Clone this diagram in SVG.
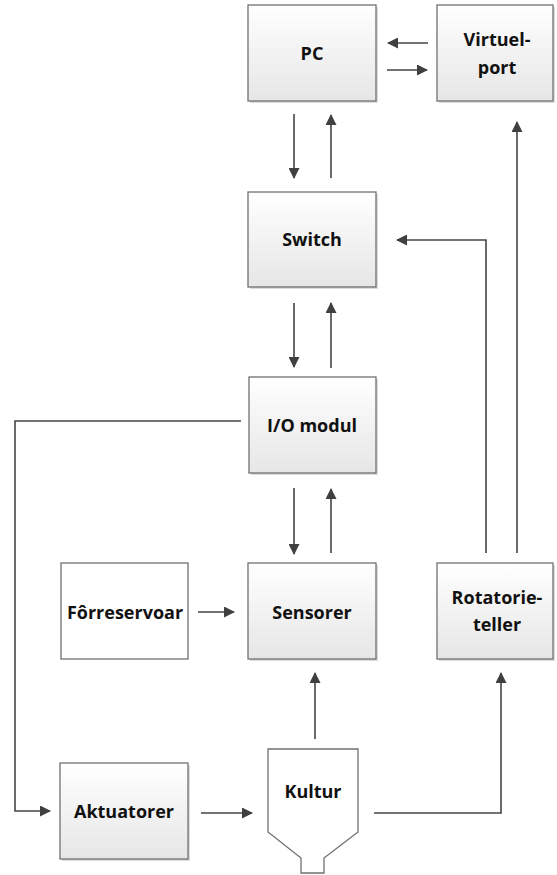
<svg xmlns="http://www.w3.org/2000/svg" width="557" height="875" viewBox="0 0 557 875">
<defs>
<linearGradient id="g" x1="0" y1="0" x2="0" y2="1">
<stop offset="0" stop-color="#ffffff"/>
<stop offset="1" stop-color="#e6e6e6"/>
</linearGradient>
<marker id="ah" markerWidth="11" markerHeight="11" refX="10" refY="5.5" orient="auto" markerUnits="userSpaceOnUse">
<path d="M0,0 L11,5.5 L0,11 Z" fill="#404040"/>
</marker>
</defs>
<style>
.box{fill:url(#g);stroke:#707070;stroke-width:1.3}
.wbox{fill:#ffffff;stroke:#707070;stroke-width:1.3}
.sh{fill:#dcdcdc}
.t{font-family:"Open Sans","Liberation Sans",sans-serif;font-weight:bold;font-size:18px;fill:#111;text-anchor:middle}
.c{fill:none;stroke:#454545;stroke-width:1.6}
.a{marker-end:url(#ah)}
</style>
<rect width="557" height="875" fill="#ffffff"/>
<g id="pc">
<rect class="sh" x="250" y="7" width="128" height="96"/>
<rect class="box" x="248" y="5" width="128" height="96"/>
<text class="t" x="312" y="60">PC</text>
</g>
<g id="virtuelport">
<rect class="sh" x="439" y="7" width="116" height="96"/>
<rect class="box" x="437" y="5" width="116" height="96"/>
<text class="t" x="497" y="46">Virtuel-</text>
<text class="t" x="497" y="74">port</text>
</g>
<g id="switch">
<rect class="sh" x="250" y="194" width="128" height="95"/>
<rect class="box" x="248" y="192" width="128" height="95"/>
<text class="t" x="312" y="246">Switch</text>
</g>
<g id="iomodul">
<rect class="sh" x="251" y="379" width="127" height="96"/>
<rect class="box" x="249" y="377" width="127" height="96"/>
<text class="t" x="312" y="432">I/O modul</text>
</g>
<g id="forreservoar">
<rect class="wbox" x="61" y="563" width="127" height="96"/>
<text class="t" x="125" y="619">Fôrreservoar</text>
</g>
<g id="sensorer">
<rect class="sh" x="250" y="565" width="128" height="96"/>
<rect class="box" x="248" y="563" width="128" height="96"/>
<text class="t" x="312" y="619">Sensorer</text>
</g>
<g id="rotatorieteller">
<rect class="sh" x="439" y="565" width="116" height="96"/>
<rect class="box" x="437" y="563" width="116" height="96"/>
<text class="t" x="497" y="604">Rotatorie-</text>
<text class="t" x="497" y="631">teller</text>
</g>
<g id="aktuatorer">
<rect class="sh" x="62" y="765" width="128" height="96"/>
<rect class="box" x="60" y="763" width="128" height="96"/>
<text class="t" x="124" y="818">Aktuatorer</text>
</g>
<g id="kultur">
<path class="wbox" d="M268,749 L358,749 L358,832 L324,858 L324,873 L301,873 L301,858 L268,832 Z"/>
<text class="t" x="313" y="798">Kultur</text>
</g>
<g id="connectors">
<path class="c a" d="M428,43 L388,43"/>
<path class="c a" d="M387,70 L427,70"/>
<path class="c a" d="M294,114 L294,178"/>
<path class="c a" d="M331,178 L331,115"/>
<path class="c a" d="M294,303 L294,367"/>
<path class="c a" d="M331,368 L331,303"/>
<path class="c a" d="M294,488 L294,554"/>
<path class="c a" d="M331,553 L331,489"/>
<path class="c a" d="M241,421 L15,421 L15,811 L50,811"/>
<path class="c a" d="M198,612 L234,612"/>
<path class="c a" d="M201,813 L252,813"/>
<path class="c a" d="M315,739 L315,673"/>
<path class="c a" d="M374,813 L501,813 L501,673"/>
<path class="c a" d="M486,553 L486,240 L397,240"/>
<path class="c a" d="M517,553 L517,122"/>
</g>
</svg>
